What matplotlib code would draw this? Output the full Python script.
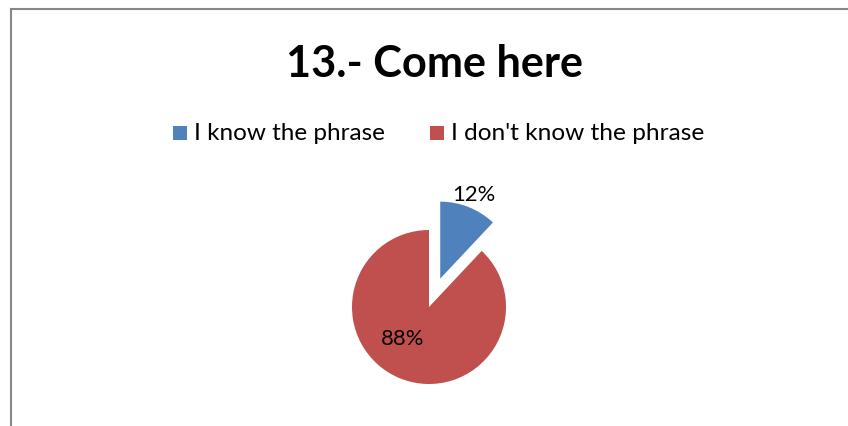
import math
import matplotlib
matplotlib.use("Agg")
import matplotlib.pyplot as plt
from matplotlib.patches import Rectangle

# Survey answers for item 13
title = "13.- Come here"
categories = ["I know the phrase", "I don't know the phrase"]
values = [12, 88]
colors = ["#4F81BD", "#C0504D"]

W, H = 848, 427
plt.rcParams["font.family"] = ["Lato", "DejaVu Sans"]

fig = plt.figure(figsize=(W / 100, H / 100), dpi=100)
ax = fig.add_axes([0, 0, 1, 1])
ax.set_xlim(0, W)
ax.set_ylim(0, H)
ax.set_aspect("equal")
ax.axis("off")
renderer = fig.canvas.get_renderer()


def fit_width(txt, target):
    """Scale a text's font size so its rendered width equals target pixels."""
    w = txt.get_window_extent(renderer).width
    txt.set_fontsize(txt.get_fontsize() * target / w)
    return txt


# chart frame (only the top and left edges fall inside the image)
ax.plot([11, 11, W], [0, H - 10, H - 10], color="#878787", lw=1.5,
        solid_joinstyle="miter", clip_on=False)

# title
t = ax.text(434.5, H - 77, title, ha="center", va="baseline",
            fontsize=30, fontweight="bold", color="black")
fit_width(t, 297)

# legend
leg_x = [173, 430]
leg_w = [190, 252]
for x0, w, lab, col in zip(leg_x, leg_w, categories, colors):
    ax.add_patch(Rectangle((x0, H - 141), 14, 14, facecolor=col, edgecolor="none"))
    lt = ax.text(x0 + 21, H - 140.5, lab, ha="left", va="baseline",
                 fontsize=17, color="black")
    fit_width(lt, w)

# pie (explode is an absolute offset in data units here)
cx, cy, R = 429, H - 308, 77
wedges, texts, autotexts = ax.pie(
    values, colors=colors, explode=[0.396 * R, 0], startangle=90,
    counterclock=False, center=(cx, cy), radius=R,
    autopct="%.0f%%", pctdistance=1.18,
    wedgeprops=dict(linewidth=0),
    textprops=dict(color="black", fontsize=17),
)
ax.set_xlim(0, W)
ax.set_ylim(0, H)

# the large slice's label sits inside, lower left of centre
ang = math.radians(229)
autotexts[1].set_position((cx + 0.53 * R * math.cos(ang), cy + 0.53 * R * math.sin(ang)))
for at in autotexts:
    fit_width(at, 43)

fig.savefig("out.png", dpi=100, facecolor="white")
